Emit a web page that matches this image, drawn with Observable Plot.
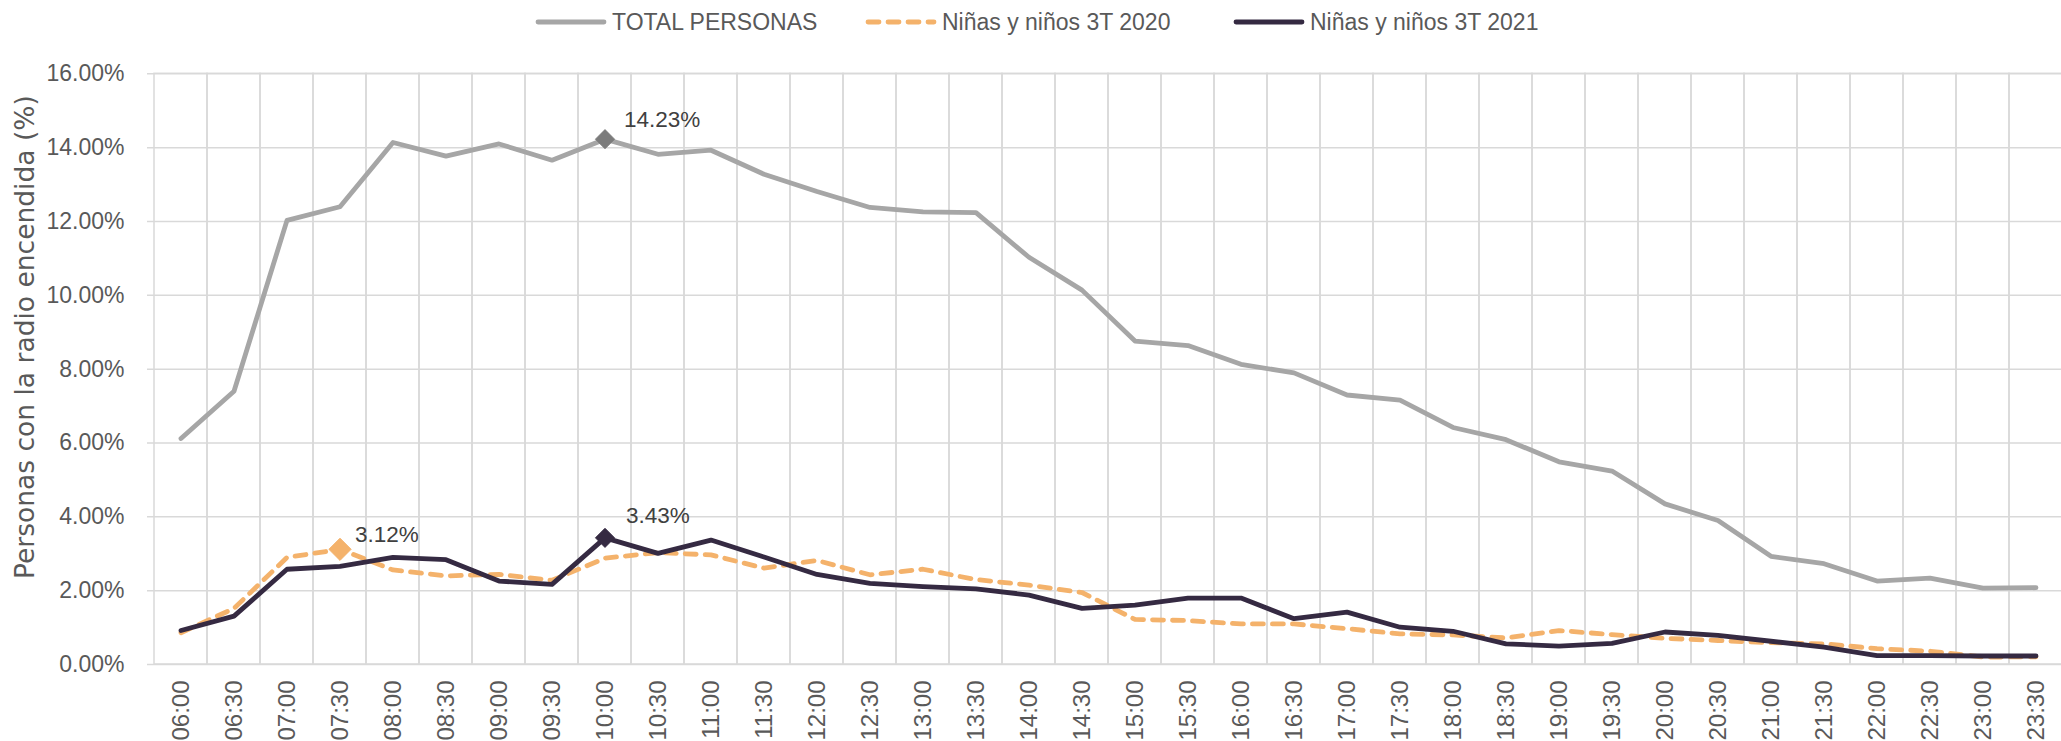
<!DOCTYPE html>
<html>
<head>
<meta charset="utf-8">
<script src="https://cdn.jsdelivr.net/npm/d3@7"></script>
<script src="https://cdn.jsdelivr.net/npm/@observablehq/plot@0.6"></script>
<style>
  html, body { margin: 0; padding: 0; background: #ffffff; overflow: hidden; }
  body { width: 2061px; height: 741px; position: relative; font-family: "Liberation Sans", Arial, sans-serif; }
  #legend { position: relative; width: 2061px; height: 44px; }
  .item { position: absolute; top: 0; height: 44px; display: flex; align-items: center; font-size: 23px; color: #595959; white-space: nowrap; }
  .item svg { margin-right: 5px; display: block; }
  #chart svg { display: block; max-width: none !important; }
  #chart svg [aria-label="x-axis tick label"] text, #chart svg g[aria-label="x-axis"] text { font-size: 24px; }
</style>
</head>
<body>
<div id="legend"></div>
<div id="chart"></div>
<script>
// ---- data ----
const times = ["06:00","06:30","07:00","07:30","08:00","08:30","09:00","09:30","10:00","10:30",
  "11:00","11:30","12:00","12:30","13:00","13:30","14:00","14:30","15:00","15:30",
  "16:00","16:30","17:00","17:30","18:00","18:30","19:00","19:30","20:00","20:30",
  "21:00","21:30","22:00","22:30","23:00","23:30"];

const seriesNames = ["TOTAL PERSONAS", "Niñas y niños 3T 2020", "Niñas y niños 3T 2021"];

const totalPersonas = [6.12, 7.40, 12.03, 12.40, 14.14, 13.77, 14.10, 13.66, 14.23, 13.82,
  13.93, 13.28, 12.81, 12.38, 12.26, 12.24, 11.03, 10.14, 8.76, 8.64,
  8.13, 7.90, 7.30, 7.16, 6.42, 6.09, 5.49, 5.24, 4.35, 3.90,
  2.93, 2.73, 2.26, 2.34, 2.07, 2.08];

const ninos2020 = [0.86, 1.52, 2.90, 3.12, 2.56, 2.40, 2.44, 2.28, 2.88, 3.03,
  2.97, 2.61, 2.82, 2.43, 2.58, 2.30, 2.15, 1.95, 1.22, 1.19,
  1.10, 1.10, 0.97, 0.83, 0.80, 0.72, 0.92, 0.81, 0.71, 0.65,
  0.59, 0.56, 0.43, 0.36, 0.20, 0.21];

const ninos2021 = [0.92, 1.31, 2.58, 2.66, 2.90, 2.84, 2.26, 2.17, 3.43, 3.01,
  3.37, 2.91, 2.44, 2.20, 2.11, 2.05, 1.88, 1.52, 1.61, 1.80,
  1.80, 1.24, 1.42, 1.01, 0.90, 0.56, 0.50, 0.57, 0.88, 0.79,
  0.63, 0.47, 0.24, 0.24, 0.23, 0.23];

const yTicks = [0, 2, 4, 6, 8, 10, 12, 14, 16];
const yTitle = "Personas con la radio encendida (%)";

// highlighted points (series index, time, value)
const labelSeries = [0, 1, 2];
const labelTimes = ["10:00", "07:30", "10:00"];
const labelValues = [14.23, 3.12, 3.43];

// ---- styles ----
const colors = ["#a6a6a6", "#f4b26b", "#352a42"];
const markerColors = ["#7b7b7b", "#f4b26b", "#352a42"];
const dashes = [null, "11,9", null];
const labelOffsets = [[19, -19], [15, -15], [21, -22]];
const markerR = [8.6, 10, 8.6];

// ---- legend ----
const legendLefts = [535, 865, 1233];
const legend = document.getElementById("legend");
seriesNames.forEach((name, i) => {
  const item = document.createElement("div");
  item.className = "item";
  item.style.left = legendLefts[i] + "px";
  const dash = dashes[i] ? `stroke-dasharray="${dashes[i]}"` : "";
  item.innerHTML = `<svg width="72" height="10"><line x1="3" x2="69" y1="5" y2="5" stroke="${colors[i]}" stroke-width="4.8" stroke-linecap="round" ${dash}/></svg><span>${name}</span>`;
  legend.appendChild(item);
});

// ---- chart ----
const seriesValues = [totalPersonas, ninos2020, ninos2021];
const lineMarks = seriesValues.map((vals, s) =>
  Plot.line(vals, {
    x: (d, i) => times[i], y: d => d,
    stroke: colors[s], strokeWidth: 4.8,
    strokeDasharray: dashes[s] || undefined,
    strokeLinecap: "round", strokeLinejoin: "round"
  })
);

const markerMarks = labelSeries.map((s, k) =>
  Plot.dot([labelValues[k]], {
    x: () => labelTimes[k], y: d => d,
    symbol: "diamond2", r: markerR[k], fill: markerColors[s], stroke: markerColors[s], strokeWidth: 1
  })
);

const labelMarks = labelSeries.map((s, k) =>
  Plot.text([labelValues[k]], {
    x: () => labelTimes[k], y: d => d,
    text: d => d.toFixed(2) + "%",
    textAnchor: "start", dx: labelOffsets[k][0], dy: labelOffsets[k][1],
    fill: "#404040", fontSize: 22.5
  })
);

const chart = Plot.plot({
  width: 2061,
  height: 697,
  marginTop: 29.3,
  marginBottom: 77,
  marginLeft: 147,
  marginRight: 0,
  style: {
    fontFamily: "'Liberation Sans', Arial, sans-serif",
    fontSize: "23px",
    color: "#595959",
    background: "#ffffff",
    overflow: "hidden"
  },
  x: {
    type: "band", domain: times, padding: 0, range: [147, 2069],
    tickSize: 0, tickPadding: 16, tickRotate: -90, label: null
  },
  y: {
    domain: [0, 16], ticks: yTicks, tickSize: 0, tickPadding: 23,
    tickFormat: d => d.toFixed(2) + "%", label: null
  },
  marks: [
    // vertical gridlines at category boundaries + frame
    Plot.barY(times, {x: d => d, y1: 0, y2: 16, fill: "none", stroke: "#d9d9d9", strokeWidth: 1.5}),
    // horizontal gridlines
    Plot.ruleY(yTicks, {stroke: "#d9d9d9", strokeWidth: 1.5}),
    ...lineMarks,
    ...markerMarks,
    ...labelMarks,
    Plot.text([yTitle], {
      frameAnchor: "left", text: d => d, rotate: -90, textAnchor: "middle",
      dx: -122, dy: -32, fontSize: 26.5, fontFamily: "'DejaVu Sans', sans-serif", fill: "#595959"
    })
  ]
});
document.getElementById("chart").appendChild(chart);
</script>
</body>
</html>
